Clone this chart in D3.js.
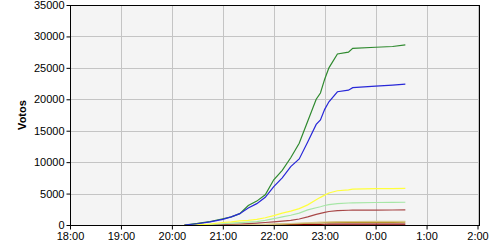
<!DOCTYPE html>
<html>
<head>
<meta charset="utf-8">
<script src="https://cdn.jsdelivr.net/npm/d3@7"></script>
<style>
    body { margin: 0; background: #fff; }
    svg { display: block; font-family: "Liberation Sans", Arial, sans-serif; }
    .axis text { font-size: 11px; fill: #000; }
    .axis path, .axis line { stroke: #000; }
    .grid line { stroke: #c4c4c4; }
    .line { fill: none; stroke-width: 1.2; }
</style>
</head>
<body>
<div id="chart"></div>
<script>
// sample times (after midnight belongs to the next day)
const times = ["20:15", "20:30", "20:45", "21:00", "21:10", "21:20", "21:30", "21:40", "21:50", "22:00",
    "22:10", "22:20", "22:30", "22:40", "22:50", "22:55", "23:00", "23:05", "23:15", "23:28",
    "23:33", "00:00", "00:20", "00:35"];

const green = [0, 250, 550, 1000, 1300, 1800, 3100, 3800, 4800, 7200, 8700, 10700, 13000, 16500, 20000, 21000, 23200, 25000, 27200, 27500, 28100, 28280, 28400, 28650];
const blue = [0, 200, 500, 900, 1300, 1800, 2700, 3400, 4400, 6100, 7500, 9300, 10500, 13200, 16000, 16700, 18400, 19600, 21200, 21450, 21850, 22100, 22250, 22400];
const yellow = [0, 50, 150, 400, 500, 650, 750, 900, 1150, 1500, 1900, 2200, 2600, 3200, 4000, 4400, 4750, 5100, 5450, 5600, 5700, 5780, 5800, 5820];
const lightGreen = [0, 20, 80, 200, 300, 380, 450, 550, 750, 1000, 1300, 1550, 1900, 2400, 2750, 2900, 3100, 3250, 3400, 3500, 3520, 3580, 3600, 3620];
const brown = [0, 10, 40, 80, 120, 160, 220, 300, 400, 500, 620, 750, 950, 1300, 1700, 1850, 2000, 2150, 2280, 2350, 2370, 2380, 2390, 2400];
const tan = [0, 5, 10, 20, 30, 45, 60, 80, 110, 150, 190, 240, 300, 360, 420, 450, 480, 510, 540, 555, 560, 570, 580, 590];
const gold = [0, 3, 8, 15, 25, 35, 45, 60, 80, 110, 140, 180, 230, 280, 320, 345, 370, 390, 410, 418, 420, 425, 432, 440];
const darkRed = [0, 2, 5, 10, 15, 20, 25, 30, 40, 50, 60, 70, 80, 95, 110, 115, 120, 125, 130, 135, 138, 140, 142, 145];

const seriesList = [
    { values: darkRed, color: "#8b0000" },
    { values: gold, color: "#b8962e" },
    { values: tan, color: "#d6c68a" },
    { values: brown, color: "#a84848" },
    { values: lightGreen, color: "#a6e6a6" },
    { values: yellow, color: "#ffff3c" },
    { values: green, color: "#2f8a2f" },
    { values: blue, color: "#2828d8" }
];

const yTicks = [0, 5000, 10000, 15000, 20000, 25000, 30000, 35000];
const xTickLabels = ["18:00", "19:00", "20:00", "21:00", "22:00", "23:00", "00:00", "01:00", "02:00"];

const parseTime = d3.timeParse("%H:%M");
// push early-morning hours to the next day
const toDate = s => {
    const d = parseTime(s);
    return d.getHours() < 12 ? d3.timeDay.offset(d, 1) : d;
};
const fmtTime = d => d.getHours() + ":" + d3.format("02")(d.getMinutes());

const margin = { top: 5, right: 20, bottom: 25, left: 70 };
const width = 500 - margin.left - margin.right;   // 410
const height = 250 - margin.top - margin.bottom;  // 220

const svg = d3.select("#chart").append("svg")
    .attr("width", 500)
    .attr("height", 250);

const chart = svg.append("g")
    .attr("transform", "translate(" + margin.left + "," + margin.top + ")");

const xTicks = xTickLabels.map(toDate);

const xScale = d3.scaleTime()
    .domain([xTicks[0], xTicks[xTicks.length - 1]])
    .range([0, width - 2.5]);

const yScale = d3.scaleLinear()
    .domain([0, 35000])
    .range([height, 0]);

// plot background
chart.append("rect")
    .attr("width", width)
    .attr("height", height)
    .attr("fill", "#f4f4f4");

// grid lines
const grid = chart.append("g").attr("class", "grid");
grid.selectAll(".gx")
    .data(xTicks.slice(1))
    .enter().append("line")
    .attr("x1", d => Math.round(xScale(d)) + 0.5)
    .attr("x2", d => Math.round(xScale(d)) + 0.5)
    .attr("y1", 0)
    .attr("y2", height);
grid.selectAll(".gy")
    .data(yTicks.slice(1))
    .enter().append("line")
    .attr("x1", 0)
    .attr("x2", width)
    .attr("y1", d => Math.round(yScale(d)) + 0.5)
    .attr("y2", d => Math.round(yScale(d)) + 0.5);

// series lines
const dates = times.map(toDate);
const line = d3.line()
    .x((d, i) => xScale(dates[i]))
    .y(d => yScale(d));

chart.selectAll(".line")
    .data(seriesList)
    .enter().append("path")
    .attr("class", "line")
    .attr("d", d => line(d.values))
    .style("stroke", d => d.color);

// frame
chart.append("rect")
    .attr("x", 0.5)
    .attr("y", 0.5)
    .attr("width", width - 1)
    .attr("height", height)
    .attr("fill", "none")
    .attr("stroke", "#000");

// axes
chart.append("g")
    .attr("class", "x axis")
    .attr("transform", "translate(0," + (height + 0.5) + ")")
    .call(d3.axisBottom(xScale).tickValues(xTicks).tickFormat(fmtTime).tickSize(4).tickPadding(3))
    .call(g => g.select(".domain").remove());

chart.append("g")
    .attr("class", "y axis")
    .attr("transform", "translate(0.5,0)")
    .call(d3.axisLeft(yScale).tickValues(yTicks).tickFormat(d3.format("d")).tickSize(4).tickPadding(2))
    .call(g => g.select(".domain").remove());

// y axis title
svg.append("text")
    .attr("transform", "translate(26," + (margin.top + height / 2) + ") rotate(-90)")
    .attr("text-anchor", "middle")
    .style("font-size", "11px")
    .style("font-weight", "bold")
    .text("Votos");
</script>
</body>
</html>
